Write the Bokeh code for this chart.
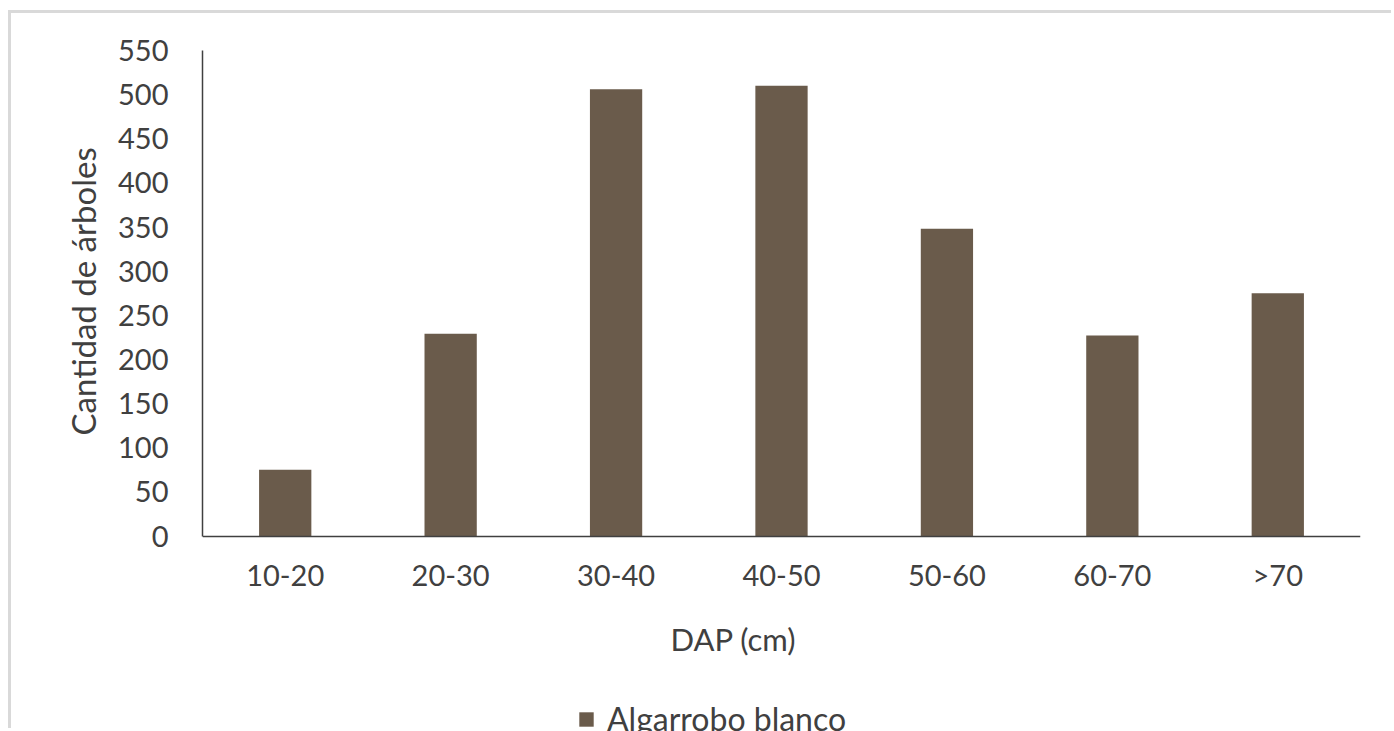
from bokeh.plotting import figure
from bokeh.models import (ColumnDataSource, FixedTicker, Legend, LegendItem,
                          FactorRange, Range1d, Title, Label)
from bokeh.embed import file_html
from bokeh.resources import INLINE

# Diameter classes (DAP, cm) and tree counts
categories = ["10-20", "20-30", "30-40", "40-50", "50-60", "60-70", ">70"]
counts = [75, 229, 506, 510, 348, 227, 275]
series_name = "Algarrobo blanco"
y_ticks = list(range(0, 551, 50))
y_max = 550

FONT = "Lato"
TEXT = "#404040"
BAR = "#6a5b4b"

# Page layout (px): the plot area runs from PLOT_TOP down to the page bottom,
# the category axis sits AXIS_GAP px above the bottom, the 0..550 scale spans SCALE_PX.
PLOT_TOP, PAGE_H, AXIS_GAP, SCALE_PX = 50, 731, 195.5, 485.5
y_min = -AXIS_GAP * y_max / SCALE_PX

source = ColumnDataSource(data=dict(cat=categories, n=counts))

p = figure(
    width=1383, height=718,
    x_range=FactorRange(*categories, range_padding=0),
    y_range=Range1d(y_min, y_max),
    output_backend="svg", toolbar_location=None,
    min_border_left=191, min_border_right=34,
    min_border_top=37, min_border_bottom=0,
)
# light chart-area frame (only the top and left edges fall inside the page)
p.styles = {"border-left": "3px solid #d9d9d9", "border-top": "3px solid #d9d9d9",
            "margin-left": "8px", "margin-top": "10px"}
p.outline_line_color = None
p.background_fill_color = "white"
p.border_fill_color = "white"
p.xgrid.grid_line_color = None
p.ygrid.grid_line_color = None

bars = p.vbar(x="cat", top="n", bottom=0, width=0.316, source=source,
              fill_color=BAR, line_color=None)

# Axes
for ax in (p.xaxis[0], p.yaxis[0]):
    ax.axis_line_color = "#404040"
    ax.axis_line_width = 1.5
    ax.major_tick_line_color = None
    ax.minor_tick_line_color = None
    ax.major_tick_out = 0
    ax.major_tick_in = 0
    ax.major_label_text_font = FONT
    ax.major_label_text_font_size = "29px"
    ax.major_label_text_color = TEXT

p.xaxis.fixed_location = 0
p.xaxis.major_label_standoff = 21

p.yaxis.ticker = FixedTicker(ticks=y_ticks)
p.yaxis.bounds = (0, y_max)
p.yaxis.major_label_standoff = 34

# Y axis title
p.add_layout(Title(text="Cantidad de árboles", align="left", offset=296,
                   text_font=FONT, text_font_size="33px", text_font_style="normal",
                   text_color=TEXT, standoff=26), "left")

# X axis title
p.add_layout(Label(x=468, y=93, x_units="screen", y_units="screen",
                   text="DAP (cm)", text_align="left", text_baseline="alphabetic",
                   text_font=FONT, text_font_size="31px", text_color=TEXT))

# Legend at the foot of the chart
legend = Legend(items=[LegendItem(label=series_name, renderers=[bars])],
                location=(375, -7), orientation="horizontal",
                label_text_font=FONT, label_text_font_size="32px",
                label_text_color=TEXT, glyph_width=18, glyph_height=18,
                label_standoff=12, padding=0, margin=0,
                spacing=0, border_line_color=None, background_fill_alpha=0)
p.add_layout(legend, "center")

open("out.html", "w").write(file_html(p, INLINE))
